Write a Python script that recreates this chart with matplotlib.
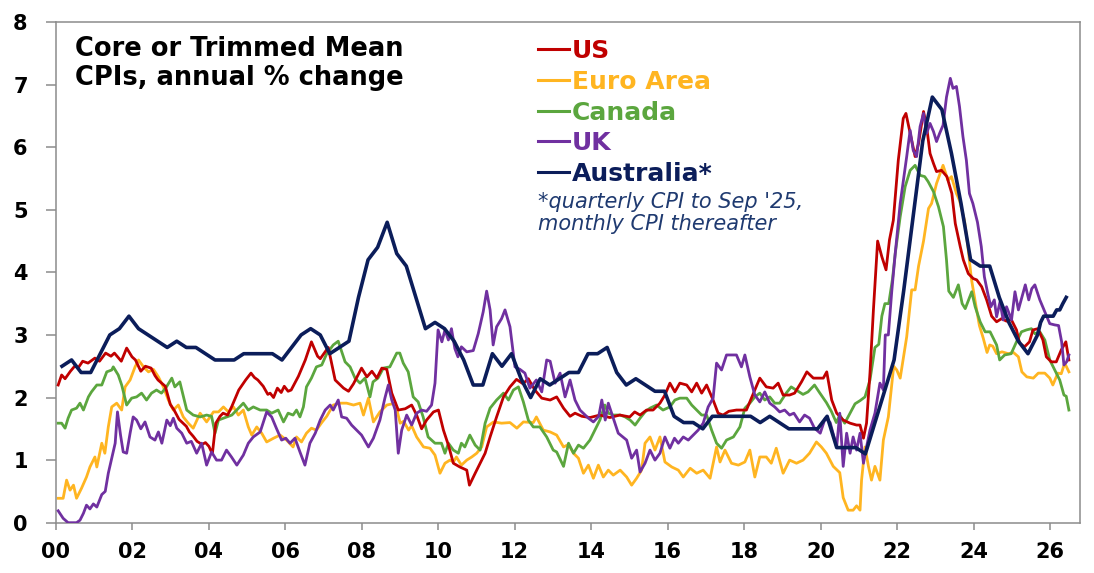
import matplotlib.pyplot as plt
from matplotlib.lines import Line2D

# (decimal year, annual % change)
us = [(2000.07, 2.20), (2000.16, 2.36), (2000.25, 2.30), (2000.39, 2.42), (2000.50, 2.50),
      (2000.60, 2.48), (2000.71, 2.58), (2000.85, 2.55), (2001.03, 2.63), (2001.15, 2.58),
      (2001.31, 2.71), (2001.45, 2.66), (2001.54, 2.71), (2001.72, 2.58), (2001.86, 2.79),
      (2002.00, 2.65), (2002.09, 2.60), (2002.23, 2.42), (2002.35, 2.50), (2002.50, 2.47),
      (2002.60, 2.35), (2002.68, 2.28), (2002.87, 2.18), (2003.00, 1.89), (2003.10, 1.80),
      (2003.23, 1.65), (2003.42, 1.54), (2003.50, 1.45), (2003.60, 1.38), (2003.70, 1.30),
      (2003.83, 1.25), (2003.92, 1.28), (2004.01, 1.22), (2004.10, 1.10), (2004.19, 1.59),
      (2004.30, 1.70), (2004.38, 1.75), (2004.50, 1.72), (2004.61, 1.86), (2004.79, 2.12),
      (2004.97, 2.28), (2005.11, 2.39), (2005.20, 2.32), (2005.29, 2.28), (2005.43, 2.18),
      (2005.55, 2.05), (2005.61, 2.07), (2005.70, 2.00), (2005.80, 2.15), (2005.90, 2.08),
      (2005.98, 2.18), (2006.08, 2.10), (2006.16, 2.12), (2006.35, 2.34), (2006.53, 2.60),
      (2006.69, 2.89), (2006.85, 2.66), (2006.92, 2.62), (2007.13, 2.80), (2007.31, 2.28),
      (2007.53, 2.15), (2007.66, 2.10), (2007.79, 2.22), (2008.00, 2.47), (2008.14, 2.33),
      (2008.27, 2.42), (2008.40, 2.31), (2008.53, 2.47), (2008.66, 2.45), (2008.79, 2.07),
      (2008.96, 1.80), (2009.14, 1.82), (2009.31, 1.88), (2009.44, 1.72), (2009.57, 1.50),
      (2009.70, 1.64), (2009.88, 1.77), (2010.01, 1.80), (2010.14, 1.48), (2010.27, 1.24),
      (2010.40, 0.95), (2010.57, 0.89), (2010.75, 0.84), (2010.82, 0.60), (2010.97, 0.79),
      (2011.10, 0.95), (2011.23, 1.11), (2011.36, 1.37), (2011.53, 1.69), (2011.71, 2.01),
      (2011.88, 2.17), (2012.05, 2.29), (2012.22, 2.22), (2012.36, 2.30), (2012.53, 2.12),
      (2012.71, 1.99), (2012.93, 1.96), (2013.10, 2.01), (2013.28, 1.83), (2013.45, 1.70),
      (2013.58, 1.75), (2013.76, 1.70), (2013.97, 1.68), (2014.23, 1.72), (2014.49, 1.68),
      (2014.75, 1.72), (2015.01, 1.69), (2015.14, 1.77), (2015.28, 1.72), (2015.45, 1.80),
      (2015.62, 1.80), (2015.80, 1.91), (2015.93, 2.04), (2016.06, 2.23), (2016.19, 2.09),
      (2016.32, 2.23), (2016.50, 2.20), (2016.63, 2.09), (2016.76, 2.23), (2016.89, 2.07),
      (2017.02, 2.20), (2017.19, 1.96), (2017.32, 1.75), (2017.45, 1.72), (2017.60, 1.78),
      (2017.80, 1.80), (2018.06, 1.80), (2018.28, 2.12), (2018.41, 2.31), (2018.58, 2.17),
      (2018.76, 2.15), (2018.89, 2.23), (2019.02, 2.04), (2019.19, 2.04), (2019.32, 2.07),
      (2019.50, 2.25), (2019.64, 2.41), (2019.81, 2.31), (2020.07, 2.31), (2020.16, 2.41),
      (2020.29, 1.96), (2020.42, 1.75), (2020.59, 1.64), (2020.77, 1.59), (2020.94, 1.56),
      (2021.03, 1.56), (2021.12, 1.35), (2021.20, 1.59), (2021.29, 2.39), (2021.38, 3.40),
      (2021.49, 4.50), (2021.60, 4.25), (2021.71, 4.04), (2021.80, 4.52), (2021.90, 4.83),
      (2022.03, 5.79), (2022.16, 6.46), (2022.23, 6.54), (2022.34, 6.22), (2022.47, 5.85),
      (2022.56, 6.06), (2022.69, 6.57), (2022.77, 6.33), (2022.86, 5.90), (2022.95, 5.74),
      (2023.03, 5.61), (2023.16, 5.63), (2023.30, 5.53), (2023.43, 5.26), (2023.52, 4.78),
      (2023.65, 4.41), (2023.73, 4.20), (2023.86, 3.98), (2023.99, 3.90), (2024.08, 3.88),
      (2024.21, 3.77), (2024.34, 3.56), (2024.47, 3.30), (2024.60, 3.21), (2024.73, 3.26),
      (2024.86, 3.22), (2024.98, 3.25), (2025.12, 3.08), (2025.20, 2.87), (2025.33, 2.81),
      (2025.46, 2.89), (2025.55, 3.08), (2025.68, 3.10), (2025.81, 2.92), (2025.90, 2.65),
      (2026.03, 2.57), (2026.16, 2.57), (2026.29, 2.76), (2026.41, 2.89), (2026.49, 2.60)]

euro = [(2000.07, 0.39), (2000.20, 0.39), (2000.29, 0.68), (2000.38, 0.52), (2000.47, 0.60),
        (2000.55, 0.39), (2000.68, 0.55), (2000.81, 0.73), (2000.90, 0.89), (2001.03, 1.05),
        (2001.08, 0.89), (2001.21, 1.27), (2001.29, 1.11), (2001.38, 1.53), (2001.47, 1.85),
        (2001.60, 1.91), (2001.73, 1.80), (2001.82, 2.17), (2001.95, 2.28), (2002.08, 2.49),
        (2002.17, 2.60), (2002.30, 2.49), (2002.43, 2.41), (2002.56, 2.45), (2002.69, 2.33),
        (2002.82, 2.17), (2002.95, 1.96), (2003.08, 1.80), (2003.21, 1.88), (2003.34, 1.69),
        (2003.47, 1.59), (2003.60, 1.51), (2003.78, 1.75), (2003.95, 1.61), (2004.13, 1.77),
        (2004.26, 1.77), (2004.39, 1.85), (2004.52, 1.77), (2004.65, 1.85), (2004.78, 1.72),
        (2004.91, 1.80), (2005.04, 1.53), (2005.13, 1.40), (2005.26, 1.53), (2005.39, 1.43),
        (2005.52, 1.29), (2005.70, 1.35), (2005.87, 1.40), (2006.04, 1.32), (2006.21, 1.21),
        (2006.30, 1.37), (2006.43, 1.29), (2006.56, 1.43), (2006.69, 1.51), (2006.82, 1.48),
        (2006.96, 1.60), (2007.09, 1.70), (2007.26, 1.88), (2007.44, 1.91), (2007.61, 1.91),
        (2007.79, 1.88), (2007.96, 1.91), (2008.05, 1.72), (2008.18, 1.99), (2008.31, 1.61),
        (2008.48, 1.77), (2008.66, 1.88), (2008.88, 1.91), (2009.01, 1.59), (2009.10, 1.62),
        (2009.23, 1.48), (2009.31, 1.55), (2009.44, 1.37), (2009.62, 1.21), (2009.79, 1.19),
        (2009.92, 1.08), (2010.05, 0.79), (2010.18, 0.95), (2010.31, 1.00), (2010.40, 0.97),
        (2010.48, 1.05), (2010.61, 0.92), (2010.75, 1.00), (2010.88, 1.05), (2011.01, 1.11),
        (2011.14, 1.21), (2011.27, 1.53), (2011.45, 1.61), (2011.66, 1.59), (2011.88, 1.60),
        (2012.06, 1.51), (2012.23, 1.61), (2012.49, 1.60), (2012.57, 1.69), (2012.75, 1.48),
        (2012.93, 1.45), (2013.10, 1.40), (2013.28, 1.21), (2013.41, 1.25), (2013.54, 1.11),
        (2013.67, 1.03), (2013.80, 0.79), (2013.93, 0.92), (2014.06, 0.71), (2014.19, 0.92),
        (2014.32, 0.73), (2014.45, 0.84), (2014.58, 0.76), (2014.76, 0.84), (2014.93, 0.73),
        (2015.06, 0.60), (2015.19, 0.71), (2015.32, 0.84), (2015.41, 1.27), (2015.54, 1.37),
        (2015.67, 1.16), (2015.80, 1.37), (2015.93, 0.97), (2016.11, 0.89), (2016.28, 0.84),
        (2016.41, 0.73), (2016.59, 0.87), (2016.76, 0.79), (2016.93, 0.84), (2017.11, 0.71),
        (2017.28, 1.21), (2017.37, 0.97), (2017.50, 1.16), (2017.67, 0.95), (2017.85, 0.92),
        (2018.02, 0.97), (2018.15, 1.16), (2018.28, 0.73), (2018.41, 1.05), (2018.58, 1.05),
        (2018.71, 0.95), (2018.84, 1.19), (2019.02, 0.79), (2019.19, 1.00), (2019.37, 0.95),
        (2019.54, 1.00), (2019.71, 1.11), (2019.89, 1.29), (2020.02, 1.21), (2020.15, 1.11),
        (2020.33, 0.90), (2020.50, 0.80), (2020.59, 0.40), (2020.72, 0.20), (2020.85, 0.20),
        (2020.94, 0.27), (2021.03, 0.20), (2021.07, 0.68), (2021.16, 1.21), (2021.25, 0.90),
        (2021.33, 0.68), (2021.42, 0.90), (2021.55, 0.68), (2021.64, 1.32), (2021.77, 1.69),
        (2021.91, 2.50), (2021.99, 2.44), (2022.08, 2.31), (2022.25, 2.97), (2022.38, 3.72),
        (2022.47, 3.72), (2022.56, 4.10), (2022.69, 4.50), (2022.82, 5.02), (2022.90, 5.10),
        (2023.03, 5.42), (2023.20, 5.71), (2023.33, 5.47), (2023.42, 5.53), (2023.55, 5.26),
        (2023.63, 5.15), (2023.76, 4.83), (2023.85, 4.41), (2023.94, 3.90), (2024.05, 3.50),
        (2024.15, 3.15), (2024.25, 2.95), (2024.35, 2.72), (2024.42, 2.84), (2024.50, 2.82),
        (2024.60, 2.70), (2024.74, 2.73), (2024.91, 2.70), (2025.04, 2.72), (2025.17, 2.65),
        (2025.26, 2.41), (2025.39, 2.33), (2025.56, 2.31), (2025.69, 2.39), (2025.86, 2.39),
        (2025.99, 2.31), (2026.07, 2.20), (2026.20, 2.39), (2026.29, 2.38), (2026.38, 2.55),
        (2026.49, 2.41)]

canada = [(2000.07, 1.59), (2000.16, 1.59), (2000.25, 1.51), (2000.33, 1.67), (2000.42, 1.80),
          (2000.55, 1.83), (2000.64, 1.91), (2000.73, 1.80), (2000.86, 2.01), (2000.94, 2.09),
          (2001.08, 2.20), (2001.21, 2.20), (2001.34, 2.41), (2001.47, 2.44), (2001.51, 2.49),
          (2001.64, 2.36), (2001.73, 2.20), (2001.86, 1.88), (2001.99, 1.99), (2002.12, 2.01),
          (2002.25, 2.07), (2002.38, 1.96), (2002.51, 2.07), (2002.64, 2.12), (2002.77, 2.07),
          (2002.90, 2.17), (2003.04, 2.31), (2003.12, 2.17), (2003.25, 2.25), (2003.43, 1.80),
          (2003.60, 1.72), (2003.78, 1.69), (2003.95, 1.72), (2004.08, 1.70), (2004.17, 1.43),
          (2004.26, 1.64), (2004.48, 1.69), (2004.61, 1.72), (2004.91, 1.91), (2005.04, 1.80),
          (2005.17, 1.85), (2005.35, 1.80), (2005.52, 1.80), (2005.65, 1.75), (2005.82, 1.80),
          (2005.96, 1.61), (2006.08, 1.75), (2006.21, 1.72), (2006.30, 1.80), (2006.39, 1.69),
          (2006.48, 1.85), (2006.56, 2.17), (2006.69, 2.31), (2006.82, 2.49), (2006.96, 2.52),
          (2007.09, 2.70), (2007.26, 2.84), (2007.39, 2.90), (2007.57, 2.57), (2007.70, 2.49),
          (2007.83, 2.31), (2007.96, 2.23), (2008.09, 2.31), (2008.22, 2.01), (2008.30, 2.25),
          (2008.43, 2.31), (2008.57, 2.47), (2008.74, 2.49), (2008.92, 2.71), (2009.00, 2.71),
          (2009.09, 2.55), (2009.22, 2.41), (2009.35, 2.01), (2009.48, 1.93), (2009.61, 1.69),
          (2009.74, 1.37), (2009.92, 1.27), (2010.09, 1.27), (2010.18, 1.11), (2010.27, 1.27),
          (2010.40, 1.16), (2010.53, 1.11), (2010.61, 1.27), (2010.70, 1.21), (2010.83, 1.40),
          (2010.97, 1.24), (2011.10, 1.16), (2011.23, 1.59), (2011.36, 1.83), (2011.53, 1.96),
          (2011.71, 2.07), (2011.84, 1.96), (2011.97, 2.12), (2012.10, 2.17), (2012.23, 1.93),
          (2012.36, 1.64), (2012.49, 1.53), (2012.66, 1.53), (2012.84, 1.37), (2013.01, 1.16),
          (2013.10, 1.13), (2013.28, 0.90), (2013.41, 1.27), (2013.54, 1.11), (2013.67, 1.24),
          (2013.80, 1.19), (2013.97, 1.32), (2014.10, 1.48), (2014.23, 1.64), (2014.36, 1.88),
          (2014.45, 1.75), (2014.58, 1.72), (2014.76, 1.72), (2014.89, 1.69), (2015.02, 1.64),
          (2015.15, 1.56), (2015.28, 1.67), (2015.41, 1.77), (2015.54, 1.83), (2015.71, 1.88),
          (2015.88, 1.80), (2016.06, 1.85), (2016.19, 1.96), (2016.32, 1.99), (2016.50, 1.99),
          (2016.63, 1.88), (2016.76, 1.80), (2016.89, 1.72), (2017.02, 1.72), (2017.15, 1.48),
          (2017.28, 1.27), (2017.41, 1.19), (2017.54, 1.32), (2017.72, 1.37), (2017.89, 1.53),
          (2018.02, 1.83), (2018.15, 1.91), (2018.28, 2.01), (2018.41, 2.07), (2018.54, 1.96),
          (2018.67, 2.01), (2018.80, 1.91), (2018.93, 1.91), (2019.10, 2.07), (2019.23, 2.17),
          (2019.36, 2.12), (2019.54, 2.05), (2019.67, 2.09), (2019.84, 2.20), (2019.97, 2.08),
          (2020.15, 1.92), (2020.28, 1.78), (2020.41, 1.60), (2020.50, 1.72), (2020.63, 1.59),
          (2020.77, 1.75), (2020.90, 1.90), (2021.03, 1.95), (2021.16, 2.01), (2021.29, 2.28),
          (2021.42, 2.80), (2021.52, 2.85), (2021.60, 3.30), (2021.68, 3.50), (2021.78, 3.50),
          (2021.88, 3.90), (2021.95, 4.30), (2022.08, 4.89), (2022.21, 5.37), (2022.34, 5.63),
          (2022.47, 5.71), (2022.60, 5.55), (2022.72, 5.53), (2022.81, 5.45), (2022.95, 5.29),
          (2023.08, 5.05), (2023.21, 4.73), (2023.29, 4.20), (2023.35, 3.70), (2023.47, 3.60),
          (2023.60, 3.80), (2023.70, 3.50), (2023.78, 3.42), (2023.95, 3.69), (2024.04, 3.45),
          (2024.17, 3.21), (2024.30, 3.05), (2024.43, 3.05), (2024.60, 2.84), (2024.68, 2.60),
          (2024.81, 2.68), (2024.98, 2.70), (2025.12, 2.89), (2025.25, 3.05), (2025.38, 3.08),
          (2025.51, 3.10), (2025.60, 3.02), (2025.73, 3.05), (2025.86, 2.92), (2025.99, 2.60),
          (2026.12, 2.44), (2026.25, 2.28), (2026.36, 2.04), (2026.42, 2.02), (2026.49, 1.80)]

uk = [(2000.07, 0.19), (2000.20, 0.07), (2000.33, 0.00), (2000.55, 0.00), (2000.64, 0.04),
      (2000.73, 0.15), (2000.81, 0.28), (2000.90, 0.22), (2000.99, 0.30), (2001.08, 0.25),
      (2001.21, 0.45), (2001.30, 0.50), (2001.38, 0.79), (2001.47, 1.03), (2001.56, 1.27),
      (2001.62, 1.77), (2001.70, 1.40), (2001.77, 1.13), (2001.86, 1.11), (2001.95, 1.43),
      (2002.03, 1.69), (2002.12, 1.64), (2002.23, 1.50), (2002.34, 1.61), (2002.47, 1.37),
      (2002.60, 1.32), (2002.69, 1.45), (2002.78, 1.27), (2002.91, 1.64), (2003.00, 1.55),
      (2003.08, 1.67), (2003.17, 1.51), (2003.30, 1.43), (2003.43, 1.27), (2003.55, 1.30),
      (2003.69, 1.11), (2003.82, 1.27), (2003.95, 0.92), (2004.08, 1.13), (2004.21, 1.00),
      (2004.34, 1.00), (2004.47, 1.16), (2004.60, 1.05), (2004.74, 0.92), (2004.91, 1.08),
      (2005.04, 1.27), (2005.17, 1.37), (2005.35, 1.45), (2005.52, 1.77), (2005.65, 1.69),
      (2005.78, 1.50), (2005.91, 1.32), (2006.02, 1.35), (2006.13, 1.27), (2006.26, 1.35),
      (2006.39, 1.13), (2006.52, 0.92), (2006.65, 1.27), (2006.79, 1.43), (2006.92, 1.64),
      (2007.05, 1.80), (2007.18, 1.88), (2007.26, 1.80), (2007.39, 1.96), (2007.48, 1.69),
      (2007.61, 1.67), (2007.74, 1.56), (2007.87, 1.48), (2008.00, 1.40), (2008.18, 1.21),
      (2008.31, 1.35), (2008.48, 1.64), (2008.61, 1.99), (2008.70, 2.20), (2008.79, 1.96),
      (2008.88, 1.80), (2008.96, 1.11), (2009.05, 1.48), (2009.18, 1.72), (2009.31, 1.56),
      (2009.44, 1.75), (2009.57, 1.80), (2009.70, 1.78), (2009.83, 1.88), (2009.92, 2.23),
      (2010.00, 3.08), (2010.10, 2.89), (2010.18, 3.08), (2010.27, 2.92), (2010.35, 3.10),
      (2010.44, 2.78), (2010.52, 2.65), (2010.61, 2.81), (2010.75, 2.73), (2010.92, 2.75),
      (2011.05, 3.02), (2011.18, 3.37), (2011.27, 3.70), (2011.36, 3.40), (2011.44, 2.84),
      (2011.53, 3.13), (2011.66, 3.26), (2011.75, 3.40), (2011.88, 3.13), (2012.01, 2.49),
      (2012.14, 2.45), (2012.27, 2.39), (2012.40, 2.15), (2012.57, 2.28), (2012.71, 2.09),
      (2012.84, 2.60), (2012.93, 2.58), (2013.06, 2.23), (2013.19, 2.39), (2013.32, 2.01),
      (2013.45, 2.28), (2013.58, 1.96), (2013.71, 1.80), (2013.93, 1.67), (2014.06, 1.61),
      (2014.20, 1.70), (2014.28, 1.96), (2014.37, 1.64), (2014.45, 1.91), (2014.58, 1.67),
      (2014.71, 1.43), (2014.93, 1.32), (2015.06, 1.03), (2015.19, 1.16), (2015.28, 0.81),
      (2015.41, 0.95), (2015.54, 1.16), (2015.67, 1.00), (2015.80, 1.11), (2015.93, 1.37),
      (2016.06, 1.19), (2016.18, 1.35), (2016.28, 1.27), (2016.41, 1.37), (2016.54, 1.32),
      (2016.67, 1.40), (2016.80, 1.48), (2016.93, 1.59), (2017.06, 1.85), (2017.19, 1.99),
      (2017.28, 2.55), (2017.41, 2.44), (2017.54, 2.68), (2017.80, 2.68), (2017.93, 2.49),
      (2018.02, 2.68), (2018.15, 2.33), (2018.28, 2.04), (2018.41, 1.93), (2018.54, 2.09),
      (2018.67, 1.91), (2018.80, 1.85), (2018.93, 1.77), (2019.06, 1.80), (2019.19, 1.72),
      (2019.30, 1.75), (2019.45, 1.61), (2019.58, 1.72), (2019.71, 1.67), (2019.84, 1.51),
      (2019.99, 1.43), (2020.12, 1.67), (2020.25, 1.60), (2020.42, 1.21), (2020.50, 1.75),
      (2020.59, 0.90), (2020.68, 1.43), (2020.77, 1.11), (2020.85, 1.37), (2020.94, 1.16),
      (2021.03, 1.43), (2021.12, 0.95), (2021.20, 1.21), (2021.29, 1.48), (2021.42, 1.75),
      (2021.55, 2.23), (2021.64, 2.12), (2021.69, 3.00), (2021.77, 3.00), (2021.86, 3.70),
      (2021.95, 4.30), (2022.08, 5.10), (2022.25, 5.85), (2022.34, 6.27), (2022.42, 5.95),
      (2022.51, 5.85), (2022.60, 6.33), (2022.69, 6.54), (2022.77, 6.22), (2022.86, 6.38),
      (2022.95, 6.25), (2023.03, 6.09), (2023.11, 6.22), (2023.20, 6.35), (2023.29, 6.80),
      (2023.39, 7.10), (2023.46, 6.94), (2023.55, 6.97), (2023.63, 6.65), (2023.72, 6.17),
      (2023.81, 5.79), (2023.89, 5.26), (2023.98, 5.10), (2024.10, 4.80), (2024.20, 4.41),
      (2024.28, 3.93), (2024.37, 3.66), (2024.45, 3.45), (2024.54, 3.56), (2024.60, 3.29),
      (2024.69, 3.53), (2024.77, 3.24), (2024.86, 3.45), (2024.99, 3.24), (2025.08, 3.69),
      (2025.17, 3.40), (2025.26, 3.60), (2025.35, 3.80), (2025.44, 3.56), (2025.52, 3.74),
      (2025.60, 3.80), (2025.73, 3.56), (2025.86, 3.37), (2025.99, 3.18), (2026.12, 3.16),
      (2026.22, 3.15), (2026.30, 2.89), (2026.36, 2.52), (2026.43, 2.57), (2026.49, 2.68)]

# quarterly trimmed mean to Sep '25, monthly after
australia = [(2000.17, 2.5), (2000.42, 2.6), (2000.67, 2.4), (2000.92, 2.4), (2001.17, 2.7),
             (2001.42, 3.0), (2001.67, 3.1), (2001.92, 3.3), (2002.17, 3.1), (2002.42, 3.0),
             (2002.67, 2.9), (2002.92, 2.8), (2003.17, 2.9), (2003.42, 2.8), (2003.67, 2.8),
             (2003.92, 2.7), (2004.17, 2.6), (2004.42, 2.6), (2004.67, 2.6), (2004.92, 2.7),
             (2005.17, 2.7), (2005.42, 2.7), (2005.67, 2.7), (2005.92, 2.6), (2006.17, 2.8),
             (2006.42, 3.0), (2006.67, 3.1), (2006.92, 3.0), (2007.17, 2.7), (2007.42, 2.8),
             (2007.67, 2.9), (2007.92, 3.6), (2008.17, 4.2), (2008.42, 4.4), (2008.67, 4.8),
             (2008.92, 4.3), (2009.17, 4.1), (2009.42, 3.6), (2009.67, 3.1), (2009.92, 3.2),
             (2010.17, 3.1), (2010.42, 2.9), (2010.67, 2.6), (2010.92, 2.2), (2011.17, 2.2),
             (2011.42, 2.7), (2011.67, 2.5), (2011.92, 2.7), (2012.17, 2.3), (2012.42, 2.0),
             (2012.67, 2.3), (2012.92, 2.2), (2013.17, 2.3), (2013.42, 2.4), (2013.67, 2.4),
             (2013.92, 2.7), (2014.17, 2.7), (2014.42, 2.8), (2014.67, 2.4), (2014.92, 2.2),
             (2015.17, 2.3), (2015.42, 2.2), (2015.67, 2.1), (2015.92, 2.1), (2016.17, 1.7),
             (2016.42, 1.6), (2016.67, 1.6), (2016.92, 1.5), (2017.17, 1.7), (2017.42, 1.7),
             (2017.67, 1.7), (2017.92, 1.7), (2018.17, 1.7), (2018.42, 1.6), (2018.67, 1.7),
             (2018.92, 1.6), (2019.17, 1.5), (2019.42, 1.5), (2019.67, 1.5), (2019.92, 1.5),
             (2020.17, 1.7), (2020.42, 1.2), (2020.67, 1.2), (2020.92, 1.2), (2021.17, 1.1),
             (2021.42, 1.6), (2021.67, 2.1), (2021.92, 2.6), (2022.17, 3.7), (2022.42, 4.9),
             (2022.67, 6.1), (2022.92, 6.8), (2023.17, 6.6), (2023.42, 5.9), (2023.67, 5.1),
             (2023.92, 4.2), (2024.17, 4.1), (2024.42, 4.1), (2024.67, 3.6), (2024.92, 3.2),
             (2025.17, 2.9), (2025.42, 2.7), (2025.67, 3.0), (2025.75, 3.2), (2025.83, 3.3),
             (2025.92, 3.3), (2026.00, 3.3), (2026.08, 3.3), (2026.17, 3.4), (2026.25, 3.4),
             (2026.33, 3.5), (2026.42, 3.6)]

names = ['US', 'Euro Area', 'Canada', 'UK', 'Australia*']
colors = ['#C00000', '#FFB521', '#5BA63E', '#7030A0', '#0B1D5A']
year_ticks = list(range(2000, 2027, 2))
year_labels = ['%02d' % (y % 100) for y in year_ticks]
footnote = ["*quarterly CPI to Sep '25,", "monthly CPI thereafter"]

W, H = 1094, 573
fig = plt.figure(figsize=(W / 100, H / 100), dpi=100)
ax = fig.add_axes([55.5 / W, 1 - 522.7 / H, (1080 - 55.5) / W, (522.7 - 22) / H])

series = [euro, canada, us, uk, australia]
order = [1, 2, 0, 3, 4]
for data, i in zip(series, order):
    xs, ys = zip(*data)
    lw = 2.6 if i == 4 else 2.0
    ax.plot(xs, ys, color=colors[i], lw=lw, solid_joinstyle='round', zorder=2 + order.index(i))

ax.set_xlim(2000, 2026.78)
ax.set_ylim(0, 8)
ax.set_xticks(year_ticks)
ax.set_xticklabels(year_labels)
ax.set_yticks(range(0, 9))
for s in ax.spines.values():
    s.set_color('#8c8c8c')
    s.set_linewidth(1.1)
ax.tick_params(axis='both', colors='#8c8c8c', width=1.1, direction='out',
               labelcolor='black', labelsize=15)
ax.tick_params(axis='x', length=5, pad=9)
ax.tick_params(axis='y', length=7, pad=13)
for lab in ax.get_xticklabels() + ax.get_yticklabels():
    lab.set_fontweight('bold')


def fx(px):
    return px / W


def fy(py):
    return 1 - py / H


# chart title inside the plot
fig.text(fx(75), fy(56), 'Core or Trimmed Mean', fontsize=18.5, fontweight='bold', va='baseline')
fig.text(fx(75), fy(85), 'CPIs, annual % change', fontsize=18.5, fontweight='bold', va='baseline')

# hand-made legend
for k, (name, col) in enumerate(zip(names, colors)):
    base = 58 + k * 30.8
    fig.add_artist(Line2D([fx(538), fx(569)], [fy(base - 9), fy(base - 9)],
                          color=col, lw=2.2, transform=fig.transFigure))
    fig.text(fx(572), fy(base), name, color=col, fontsize=18, fontweight='bold', va='baseline')

fig.text(fx(538), fy(208), footnote[0], color='#1F3A70', fontsize=15, style='italic', va='baseline')
fig.text(fx(538), fy(230), footnote[1], color='#1F3A70', fontsize=15, style='italic', va='baseline')

fig.savefig('out.png', dpi=100)
